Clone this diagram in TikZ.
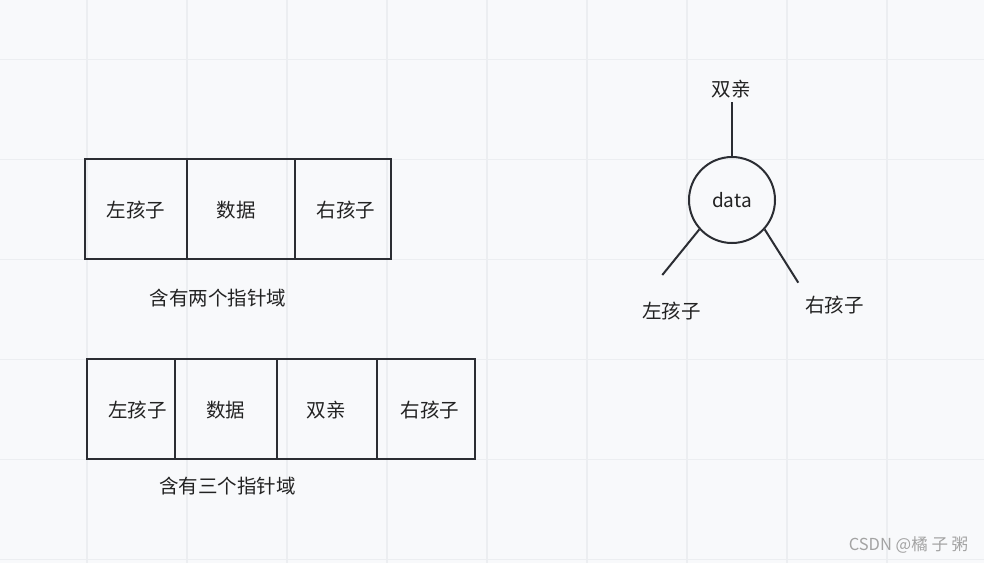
\documentclass[tikz,border=0pt]{standalone}
\usepackage{fontspec}
\setmainfont{Noto Sans CJK SC}
\definecolor{bgc}{HTML}{F8F9FB}
\definecolor{gridc}{HTML}{ECEEF1}
\definecolor{inkc}{HTML}{2B2D33}
\definecolor{txtc}{HTML}{222222}
\definecolor{wmc}{HTML}{A3A3A3}
\begin{document}
\begin{tikzpicture}[x=1pt,y=-1pt,
  cell/.style={draw=inkc,line width=2pt,inner sep=0pt,anchor=north west,minimum height=100.3pt},
  txt/.style={inner sep=0pt,text=txtc,font=\fontsize{19.5pt}{22pt}\selectfont},
  edge/.style={draw=inkc,line width=2pt},
  gridline/.style={draw=gridc,line width=1.6pt}]
\useasboundingbox (0,0) rectangle (984,563);
\fill[bgc] (0,0) rectangle (984,563);
\foreach \gx in {87,187,...,887} \draw[gridline] (\gx,0) -- (\gx,563);
\foreach \gy in {59.5,159.5,...,559.5} \draw[gridline] (0,\gy) -- (984,\gy);
% two-pointer structure
\node[cell,minimum width=101.4pt] (a1) at (84.3,157.7) {};
\node[cell,minimum width=108pt] (a2) at (185.7,157.7) {};
\node[cell,minimum width=96pt] (a3) at (293.7,157.7) {};
\node[txt] (ta1) at (136,210) {左孩子};
\node[txt] (ta2) at (236,210) {数据};
\node[txt] (ta3) at (346,210) {右孩子};
\node[txt] (la) at (218,298) {含有两个指针域};
% three-pointer structure
\node[cell,minimum width=88.3pt,minimum height=99.4pt] (b1) at (85.7,358.3) {};
\node[cell,minimum width=102pt,minimum height=99.4pt] (b2) at (174,358.3) {};
\node[cell,minimum width=99.7pt,minimum height=99.4pt] (b3) at (276,358.3) {};
\node[cell,minimum width=98pt,minimum height=99.4pt] (b4) at (375.7,358.3) {};
\node[txt] (tb1) at (137.5,410) {左孩子};
\node[txt] (tb2) at (225.7,410) {数据};
\node[txt] (tb3) at (326,410) {双亲};
\node[txt] (tb4) at (430,410) {右孩子};
\node[txt] (lb) at (227.5,486) {含有三个指针域};
% tree node
\node[circle,draw=inkc,line width=2pt,minimum size=86pt,inner sep=0pt,text=txtc,font=\fontsize{19pt}{21pt}\selectfont] (c) at (732,200) {data};
\coordinate (pt) at (732,101.7);
\coordinate (lt) at (662.3,275);
\coordinate (rt) at (798.3,282.7);
\draw[edge] (c.north) -- (pt);
\draw[edge] (c.222) -- (lt);
\draw[edge] (c.318) -- (rt);
\node[txt] (tp) at (731,89) {双亲};
\node[txt] (tl) at (671.7,311.5) {左孩子};
\node[txt] (tr) at (834.3,305) {右孩子};
% watermark
\node[inner sep=0pt,text=wmc,font=\fontsize{16.5pt}{19pt}\selectfont] (wm) at (908.5,545) {CSDN @橘 子 粥};
\end{tikzpicture}
\end{document}
